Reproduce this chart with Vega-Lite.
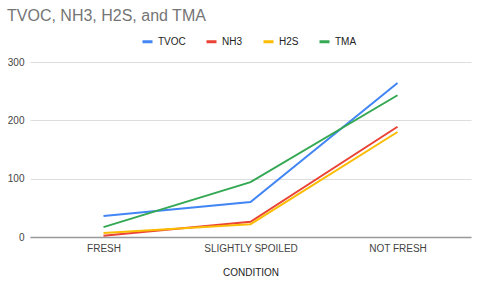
{
  "$schema": "https://vega.github.io/schema/vega-lite/v6.json",
  "width": 441,
  "height": 175,
  "autosize": {"type": "none"},
  "padding": {"left": 30, "top": 62, "right": 9, "bottom": 45},
  "background": "white",
  "config": {
    "view": {"stroke": null},
    "font": "Liberation Sans"
  },
  "title": {
    "text": "TVOC, NH3, H2S, and TMA",
    "anchor": "start",
    "frame": "group",
    "dx": -23,
    "offset": 11,
    "fontSize": 16,
    "fontWeight": "normal",
    "color": "#757575"
  },
  "data": {
    "values": [
      {"condition": "FRESH", "series": "TVOC", "value": 36},
      {"condition": "SLIGHTLY SPOILED", "series": "TVOC", "value": 60},
      {"condition": "NOT FRESH", "series": "TVOC", "value": 264},
      {"condition": "FRESH", "series": "NH3", "value": 2},
      {"condition": "SLIGHTLY SPOILED", "series": "NH3", "value": 26},
      {"condition": "NOT FRESH", "series": "NH3", "value": 189},
      {"condition": "FRESH", "series": "H2S", "value": 7},
      {"condition": "SLIGHTLY SPOILED", "series": "H2S", "value": 22},
      {"condition": "NOT FRESH", "series": "H2S", "value": 180},
      {"condition": "FRESH", "series": "TMA", "value": 17},
      {"condition": "SLIGHTLY SPOILED", "series": "TMA", "value": 94},
      {"condition": "NOT FRESH", "series": "TMA", "value": 243}
    ]
  },
  "mark": {"type": "line", "strokeWidth": 2},
  "encoding": {
    "x": {
      "field": "condition",
      "type": "nominal",
      "sort": ["FRESH", "SLIGHTLY SPOILED", "NOT FRESH"],
      "scale": {"type": "point", "padding": 0.5},
      "axis": {
        "title": "CONDITION",
        "titleFontSize": 10,
        "titleFontWeight": "normal",
        "titleColor": "#222222",
        "titlePadding": 14,
        "labelAngle": 0,
        "labelFontSize": 10,
        "labelColor": "#444444",
        "labelPadding": 6,
        "ticks": false,
        "domainColor": "#999999",
        "domainWidth": 1.5
      }
    },
    "y": {
      "field": "value",
      "type": "quantitative",
      "scale": {"domain": [0, 300], "nice": false},
      "axis": {
        "title": null,
        "values": [0, 100, 200, 300],
        "labelFontSize": 10,
        "labelColor": "#444444",
        "labelPadding": 6,
        "ticks": false,
        "domain": false,
        "gridColor": "#dddddd"
      }
    },
    "color": {
      "field": "series",
      "type": "nominal",
      "sort": ["TVOC", "NH3", "H2S", "TMA"],
      "scale": {
        "domain": ["TVOC", "NH3", "H2S", "TMA"],
        "range": ["#4285F4", "#EA4335", "#FBBC04", "#34A853"]
      },
      "legend": {
        "title": null,
        "orient": "none",
        "direction": "horizontal",
        "legendX": 111,
        "legendY": -27,
        "symbolType": "stroke",
        "symbolStrokeWidth": 3,
        "symbolSize": 100,
        "labelFontSize": 10,
        "labelColor": "#222222",
        "columnPadding": 14
      }
    }
  }
}
